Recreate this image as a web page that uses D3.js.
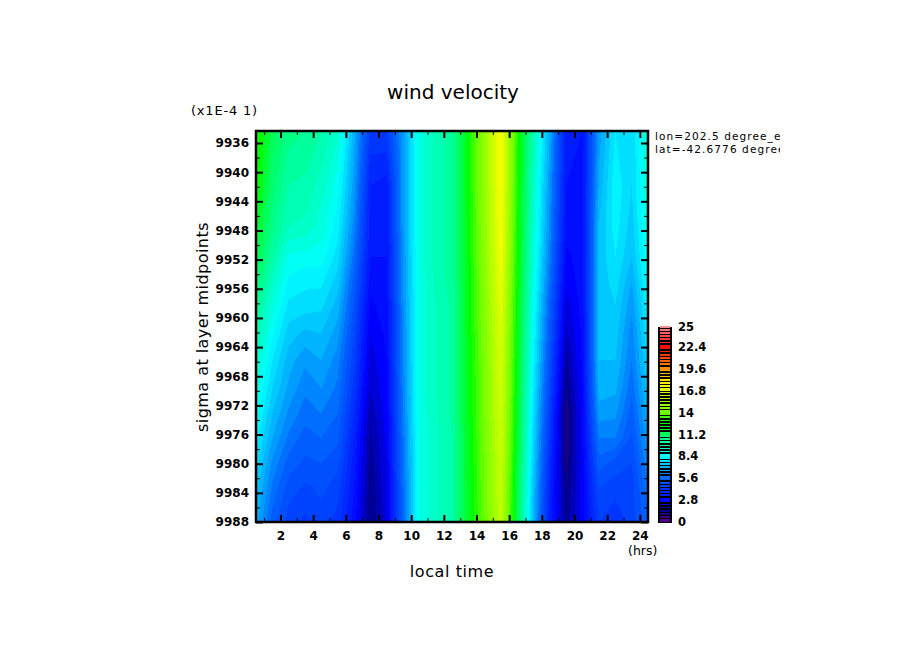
<!DOCTYPE html>
<html>
<head>
<meta charset="utf-8">
<script src="https://cdn.jsdelivr.net/npm/d3@7"></script>
<style>
  body { margin: 0; background: #fff; }
  text { font-family: "DejaVu Sans"; fill: #000; }
  .bold text, text.bold { font-weight: bold; }
</style>
</head>
<body>
<script>
// local time in hours, one column per hour
const hours = [0.5,1.5,2.5,3.5,4.5,5.5,6.5,7.5,8.5,9.5,10.5,11.5,12.5,13.5,14.5,15.5,16.5,17.5,18.5,19.5,20.5,21.5,22.5,23.5,24.5];
// sigma at layer midpoints (x1E-4), one row per level
const sigma = [9934.35,9941.8,9947.4,9951.7,9955.1,9958.3,9962.1,9965.8,9969.7,9973.1,9976.5,9980,9983.4,9988];

// wind velocity, rows follow sigma, columns follow hours
const r0  = [13.2,11.4,10.6,10.4,10.0,9.3,7.0,4.3,4.4,6.5,9.0,9.7,10.2,12.6,15.0,17.6,13.0,9.8,6.8,3.4,3.2,6.6,8.0,7.6,9.4];
const r1  = [12.8,11.0,10.0,9.9,9.4,8.6,6.6,3.6,3.4,6.5,9.0,9.7,10.2,12.6,15.0,17.6,12.9,9.4,6.4,3.2,3.1,6.9,8.3,7.6,9.2];
const r2  = [12.2,10.6,9.6,9.5,9.0,8.2,6.2,3.4,3.3,6.5,9.0,9.7,10.2,12.5,14.9,17.5,12.8,9.2,6.2,3.0,3.1,7.2,8.2,7.4,9.0];
const r3  = [11.6,10.1,8.7,8.6,8.6,7.8,5.8,3.2,3.2,6.4,9.0,9.7,10.2,12.5,14.8,17.4,12.7,9.0,6.0,2.7,3.0,7.3,8.0,7.2,8.8];
const r4  = [11.0,9.5,8.3,8.1,8.1,7.4,5.4,3.0,3.1,6.4,8.9,9.7,10.2,12.4,14.7,17.2,12.6,8.8,5.7,2.5,3.0,7.3,7.8,6.8,8.6];
const r5  = [10.5,9.0,7.9,7.8,7.7,7.0,5.1,2.7,3.0,6.3,8.9,9.6,10.1,12.4,14.6,17.0,12.5,8.6,5.4,2.2,3.0,7.3,7.6,6.5,8.3];
const r6  = [9.9,8.5,7.4,7.1,7.2,6.6,4.8,2.4,2.9,6.2,8.9,9.6,10.1,12.4,14.5,16.8,12.4,8.4,5.2,1.9,2.9,7.3,7.4,6.2,8.0];
const r7  = [9.4,8.0,7.0,6.5,6.8,6.2,4.5,2.2,2.8,6.2,8.9,9.6,10.1,12.3,14.4,16.7,12.3,8.2,4.9,1.5,2.9,7.2,7.2,6.0,7.7];
const r8  = [9.0,7.6,6.7,6.1,6.4,5.9,4.2,2.0,2.7,6.1,8.9,9.6,10.1,12.3,14.3,16.6,12.2,8.0,4.6,1.2,2.8,7.0,6.9,5.7,7.4];
const r9  = [8.6,7.2,6.3,5.8,6.0,5.6,3.9,1.7,2.6,6.0,8.9,9.5,10.1,12.3,14.3,16.5,12.1,7.8,4.3,0.9,2.7,6.6,6.5,5.4,7.0];
const r10 = [8.2,6.8,5.9,5.4,5.6,5.3,3.6,1.5,2.5,5.9,8.8,9.5,10.0,12.2,14.2,16.4,12.0,7.6,4.1,0.9,2.7,6.0,6.0,5.1,6.7];
const r11 = [7.8,6.3,5.4,5.1,5.2,4.9,3.4,1.4,2.4,5.8,8.8,9.5,10.0,12.2,14.1,16.3,11.8,7.4,3.8,1.0,2.6,5.4,5.0,4.8,6.3];
const r12 = [7.4,5.9,5.0,4.7,4.9,4.6,3.2,1.3,2.3,5.7,8.8,9.5,10.0,12.1,14.1,16.2,11.6,7.2,3.6,1.2,2.6,4.8,4.6,4.6,5.9];
const r13 = [7.0,5.4,4.6,4.3,4.6,4.2,3.0,1.2,2.2,5.6,8.8,9.5,10.0,12.1,14.0,16.1,11.5,7.0,3.4,1.4,2.6,4.4,4.0,4.6,5.5];
const rows = [r0,r1,r2,r3,r4,r5,r6,r7,r8,r9,r10,r11,r12,r13];

const hourMajor = [2,4,6,8,10,12,14,16,18,20,22,24];
const hourMinor = [1,3,5,7,9,11,13,15,17,19,21,23];
const sigmaMajor = [9936,9940,9944,9948,9952,9956,9960,9964,9968,9972,9976,9980,9984,9988];
const sigmaMinor = [9938,9942,9946,9950,9954,9958,9962,9966,9970,9974,9978,9982,9986];
const barLabels = [0,2.8,5.6,8.4,11.2,14,16.8,19.6,22.4,25];
const bandStep = 0.4;

// rainbow colour table, value and colour
const colorValues = [0,0.8,1.2,2.0,2.6,5.6,7.0,8.4,9.8,11.2,12.6,14,16.8,17.6,19.6,22.4,25];
const colorStops = ["#5a008c","#320082","#000082","#0000c8","#0000ff","#0064ff","#00b4ff","#00ffff","#00ffb4","#00ff64","#00ff00","#6eff00","#dcff00","#ffff00","#ff9600","#ff0000","#ff8c8c"];

const svg = d3.select("body").append("svg")
  .attr("width", 904)
  .attr("height", 654);

const x = d3.scaleLinear().domain([0.5,24.5]).range([256,648]);
const y = d3.scaleLinear().domain([9934.35,9988]).range([131,522]);
const color = d3.scaleLinear().domain(colorValues).range(colorStops).clamp(true);
const barY = d3.scaleLinear().domain([0,25]).range([522,327]);

svg.append("defs").append("clipPath").attr("id","plotClip")
  .append("rect")
    .attr("x", x(0.5)).attr("y", y(9934.35))
    .attr("width", x(24.5)-x(0.5)).attr("height", y(9988)-y(9934.35));
svg.select("defs").append("clipPath").attr("id","noteClip")
  .append("rect").attr("x",650).attr("y",125).attr("width",130).attr("height",30);

// d3.contours puts sample i at i+0.5, these scales take that back to data space
const colToHour = d3.scaleLinear().domain(hours.map((d,i) => i+0.5)).range(hours);
const rowToSigma = d3.scaleLinear().domain(sigma.map((d,i) => i+0.5)).range(sigma);

const nx = hours.length, ny = sigma.length;
const thresholds = d3.range(0, 25, bandStep);
const contours = d3.contours().size([nx,ny]).thresholds(thresholds)(rows.flat());

const path = d3.geoPath(d3.geoTransform({
  point: function(cx,cy) { this.stream.point(x(colToHour(cx)), y(rowToSigma(cy))); }
}));

svg.append("rect")
  .attr("x", x(0.5)).attr("y", y(9934.35))
  .attr("width", x(24.5)-x(0.5)).attr("height", y(9988)-y(9934.35))
  .attr("fill", color(0));

svg.append("g").attr("clip-path","url(#plotClip)")
  .selectAll("path").data(contours).enter().append("path")
    .attr("d", path)
    .attr("fill", d => color(d.value + bandStep/2))
    .attr("shape-rendering","crispEdges");

// axes, ticks point into the plot
function styleAxis(g, w) {
  g.select(".domain").remove();
  g.selectAll("line").attr("stroke","#000").attr("stroke-width",w);
}
function fmt(d) { return d; }

svg.append("g").attr("class","bold").attr("transform","translate(0,522)")
  .call(d3.axisBottom(x).tickValues(hourMajor).tickFormat(fmt).tickSizeInner(-7).tickPadding(9))
  .call(g => styleAxis(g,2))
  .selectAll("text").attr("font-size",12).style("font-family","DejaVu Sans");
svg.append("g").attr("transform","translate(0,522)")
  .call(d3.axisBottom(x).tickValues(hourMinor).tickFormat("").tickSizeInner(-4))
  .call(g => styleAxis(g,1));
svg.append("g").attr("transform","translate(0,131)")
  .call(d3.axisTop(x).tickValues(hourMajor).tickFormat("").tickSizeInner(-7))
  .call(g => styleAxis(g,2));
svg.append("g").attr("transform","translate(0,131)")
  .call(d3.axisTop(x).tickValues(hourMinor).tickFormat("").tickSizeInner(-4))
  .call(g => styleAxis(g,1));

svg.append("g").attr("class","bold").attr("transform","translate(256,0)")
  .call(d3.axisLeft(y).tickValues(sigmaMajor).tickFormat(fmt).tickSizeInner(-7).tickPadding(7))
  .call(g => styleAxis(g,2))
  .selectAll("text").attr("font-size",12).style("font-family","DejaVu Sans");
svg.append("g").attr("transform","translate(256,0)")
  .call(d3.axisLeft(y).tickValues(sigmaMinor).tickFormat("").tickSizeInner(-4))
  .call(g => styleAxis(g,1));
svg.append("g").attr("transform","translate(648,0)")
  .call(d3.axisRight(y).tickValues(sigmaMajor).tickFormat("").tickSizeInner(-7))
  .call(g => styleAxis(g,2));
svg.append("g").attr("transform","translate(648,0)")
  .call(d3.axisRight(y).tickValues(sigmaMinor).tickFormat("").tickSizeInner(-4))
  .call(g => styleAxis(g,1));

svg.append("rect")
  .attr("x", x(0.5)).attr("y", y(9934.35))
  .attr("width", x(24.5)-x(0.5)).attr("height", y(9988)-y(9934.35))
  .attr("fill","none").attr("stroke","#000").attr("stroke-width",2.5);

// colour bar
svg.append("rect")
  .attr("x",658).attr("y",barY(25)).attr("width",14).attr("height",barY(0)-barY(25)+1)
  .attr("fill","#000");
svg.append("g").selectAll("rect").data(thresholds).enter().append("rect")
  .attr("x",660).attr("width",10)
  .attr("y", d => barY(d+bandStep/2) - 1)
  .attr("height", d => barLabels.includes(Math.round(d*10)/10) ? 3 : 1.5)
  .attr("fill", d => color(d+bandStep/2))
  .attr("shape-rendering","crispEdges");
svg.append("g").attr("class","bold").selectAll("text").data(barLabels).enter().append("text")
  .attr("x",678).attr("y", d => barY(d)+4)
  .attr("font-size",11.5)
  .text(d => d);

// titles
svg.append("text").attr("x",453).attr("y",99).attr("text-anchor","middle")
  .attr("font-size",20).text("wind velocity");
svg.append("text").attr("x",452).attr("y",577).attr("text-anchor","middle")
  .attr("font-size",16).attr("letter-spacing",0.6).text("local time");
svg.append("text").attr("transform","translate(208,327) rotate(-90)").attr("text-anchor","middle")
  .attr("font-size",16).attr("letter-spacing",0.45).text("sigma at layer midpoints");
svg.append("text").attr("x",191).attr("y",115).attr("font-size",13).attr("letter-spacing",0.8).text("(x1E-4 1)");
svg.append("text").attr("x",628).attr("y",555).attr("font-size",12.5).text("(hrs)");
const note = svg.append("g").attr("clip-path","url(#noteClip)");
note.append("text").attr("x",655).attr("y",140).attr("font-size",10.5).attr("letter-spacing",1.1).text("lon=202.5 degree_east");
note.append("text").attr("x",655).attr("y",153).attr("font-size",10.5).attr("letter-spacing",1.1).text("lat=-42.6776 degree_north");
</script>
</body>
</html>
